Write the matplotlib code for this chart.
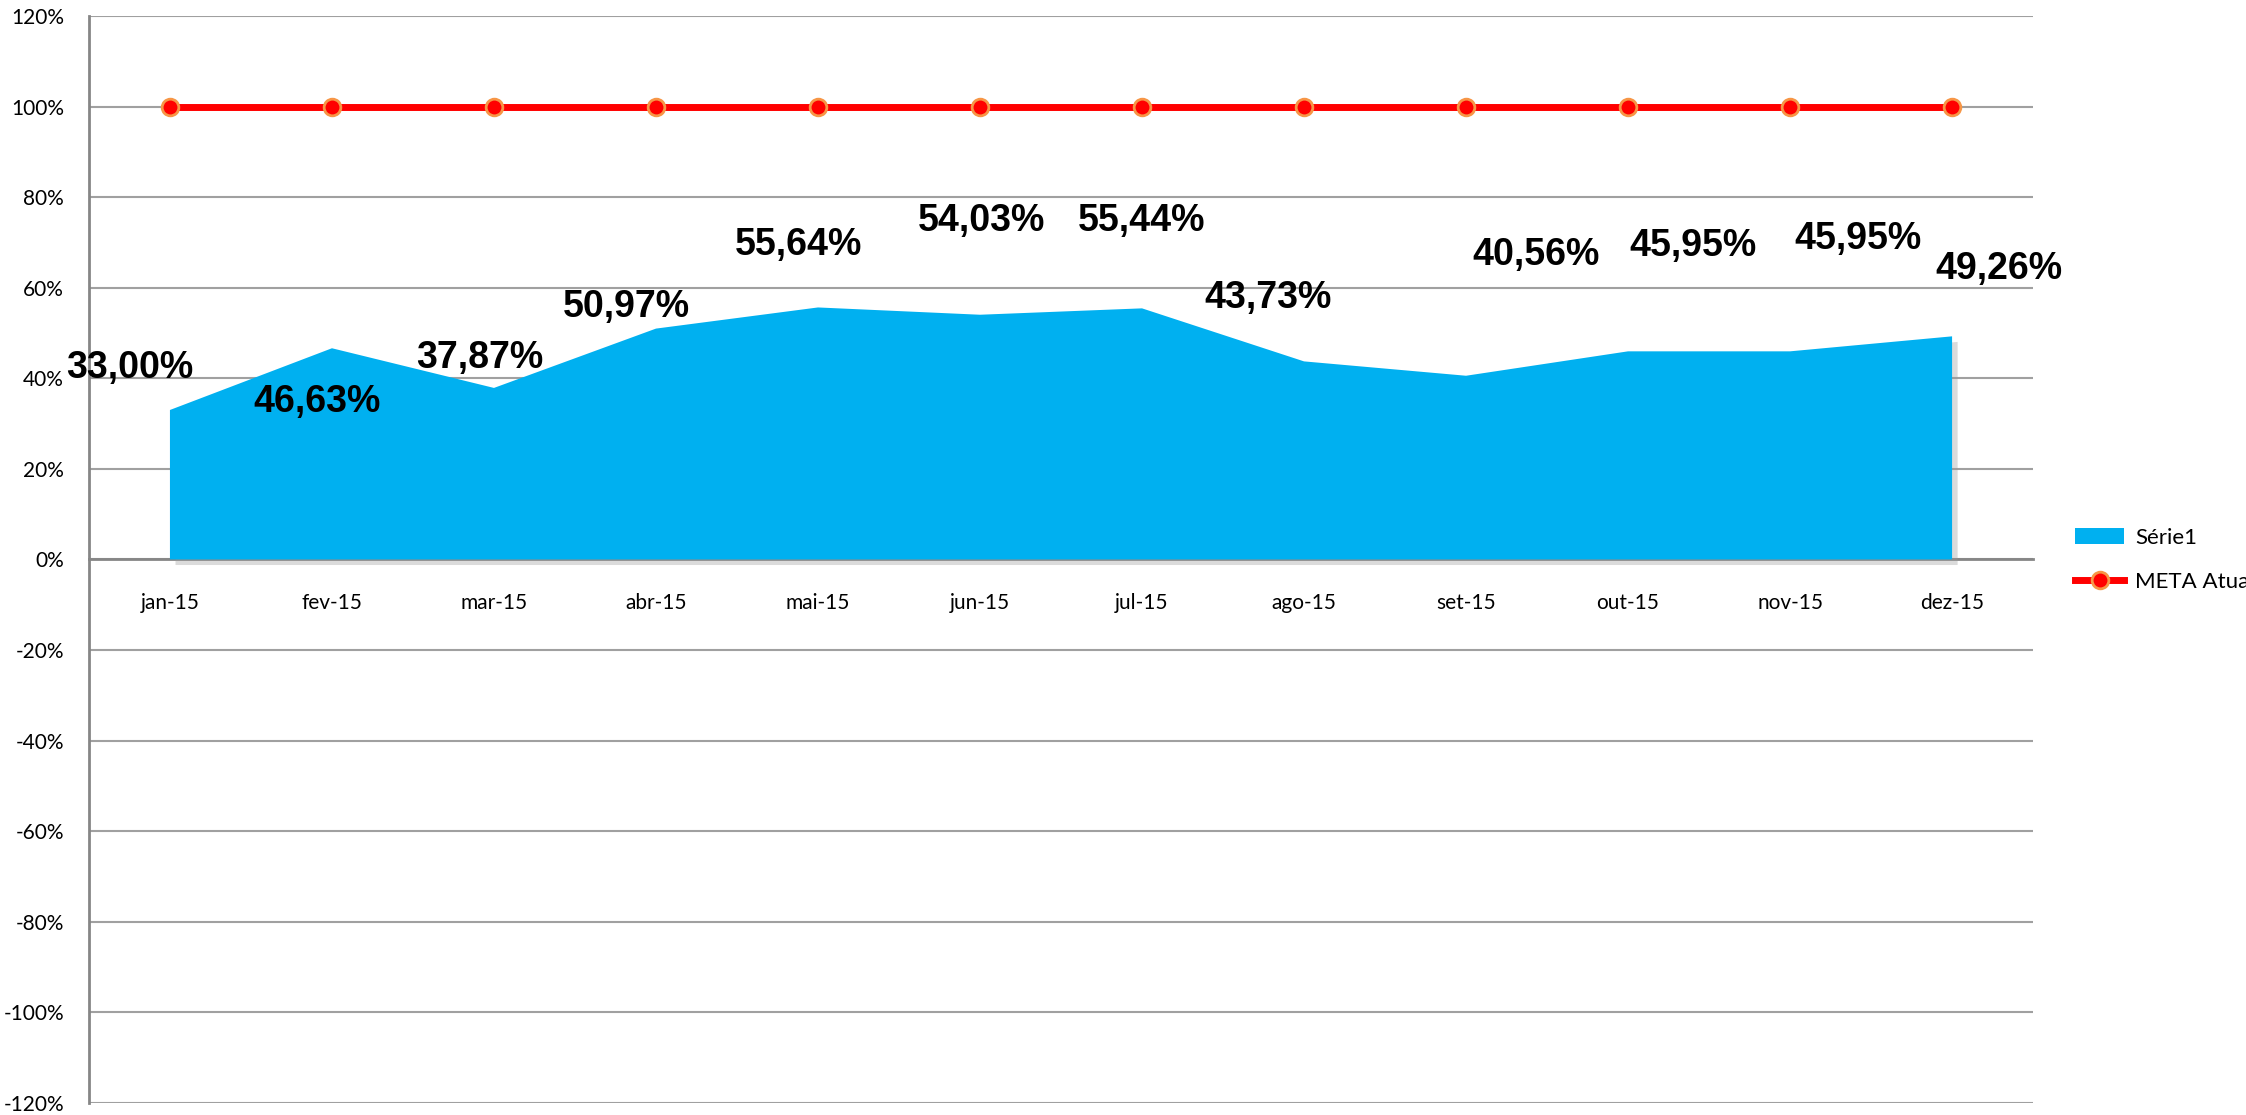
import numpy as np
import matplotlib
matplotlib.use("Agg")
import matplotlib.pyplot as plt
from matplotlib import patheffects as pe

meses = ["jan-15", "fev-15", "mar-15", "abr-15", "mai-15", "jun-15",
         "jul-15", "ago-15", "set-15", "out-15", "nov-15", "dez-15"]
serie1 = [33.00, 46.63, 37.87, 50.97, 55.64, 54.03, 55.44, 43.73, 40.56, 45.95, 45.95, 49.26]
meta = [100, 100, 100, 100, 100, 100, 100, 100, 100, 100, 100, 100]

# where excel left the data labels (data coords)
lab_x = [-0.25, 0.91, 1.91, 2.82, 3.88, 5.01, 6.0, 6.78, 8.43, 9.40, 10.42, 11.29]
lab_y = [42.3, 34.8, 44.5, 55.7, 69.4, 74.7, 74.7, 57.7, 67.2, 69.2, 70.8, 64.1]

x = np.arange(len(meses))

fig = plt.figure(figsize=(22.46, 11.15), dpi=100)
ax = fig.add_axes([0.0396, 0.0108, 0.8656, 0.9749])

# spine position first, it resets the tick labels
for s in ["top", "right"]:
    ax.spines[s].set_visible(False)
ax.spines["left"].set_color("#868686")
ax.spines["left"].set_linewidth(2)
ax.spines["bottom"].set_position(("data", 0))
ax.spines["bottom"].set_color("#868686")
ax.spines["bottom"].set_linewidth(2)
ax.spines["bottom"].set_zorder(2)

area = ax.fill_between(x, 0, serie1, color="#00B0F0", linewidth=0, label="Série1", zorder=3)
area.set_path_effects([pe.SimplePatchShadow(offset=(4, -4), shadow_rgbFace="#999999", alpha=0.35), pe.Normal()])

ax.plot(x, meta, "-o", color="#FF0000", lw=5, ms=12, mfc="#FF0000", mec="#F79646", mew=2,
        label="META Atual", zorder=4)

for xi, yi, v in zip(lab_x, lab_y, serie1):
    ax.text(xi, yi, f"{v:.2f}%".replace(".", ","), ha="center", va="center",
            fontsize=27, fontweight="bold", family="Liberation Sans", zorder=5)

ax.set_xlim(-0.5, 11.5)
ax.set_ylim(-120, 120)
ax.set_yticks(np.arange(-120, 121, 20))
ax.set_yticklabels([f"{t}%" for t in range(-120, 121, 20)], family="Lato", fontsize=15)
ax.set_xticks(x)
ax.set_xticklabels(meses, family="Lato", fontsize=15)

ax.yaxis.grid(True, color="#A0A0A0", lw=1.5)
ax.set_axisbelow(True)
ax.tick_params(axis="x", length=0, pad=24)
ax.tick_params(axis="y", length=0, pad=18)

ax.legend(loc="center left", bbox_to_anchor=(0.915, 0.498), bbox_transform=fig.transFigure,
          frameon=False, prop={"family": "Lato", "size": 16}, handlelength=2.2,
          labelspacing=1.1, handletextpad=0.5)

plt.savefig("out.png")
